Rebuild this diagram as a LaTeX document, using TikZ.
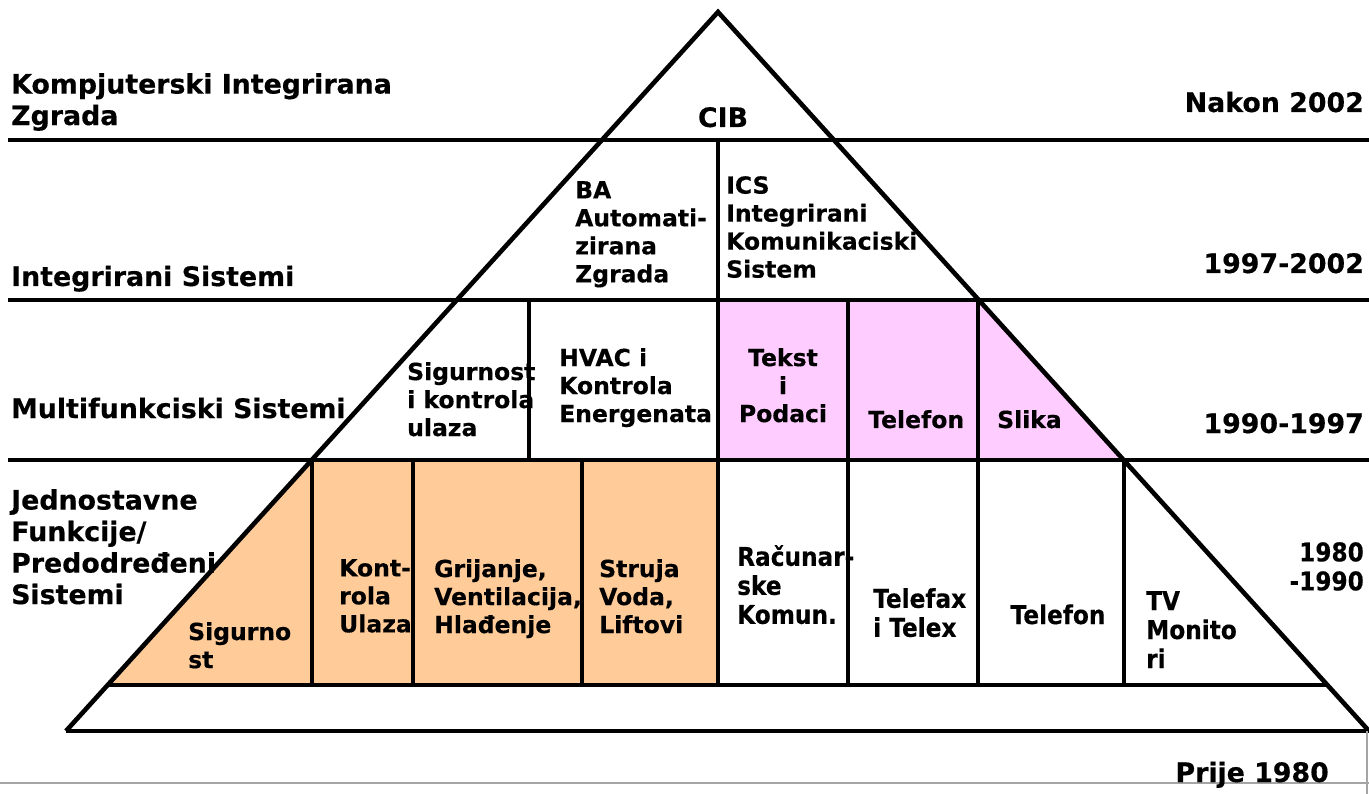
\documentclass[tikz,border=0pt]{standalone}
\usepackage{fontspec}
\setmainfont{DejaVu Sans}[BoldFeatures={FakeBold=0.4}]
\newfontfamily\narrowFamily{DejaVu Sans}[FakeStretch=0.9, BoldFeatures={FakeBold=0.4}]
\usetikzlibrary{calc}
\definecolor{securityOrange}{RGB}{255,204,153}
\definecolor{mediaPink}{RGB}{255,204,255}
\definecolor{frameGray}{RGB}{165,165,165}
\newcommand{\eraFont}{\bfseries\fontsize{26.8}{31.5}\selectfont}
\newcommand{\cellFont}{\bfseries\fontsize{23.5}{28}\selectfont}
\newcommand{\narrowFont}{\narrowFamily\bfseries\fontsize{25.8}{29}\selectfont}
\tikzstyle{pyramid} = [x = 1pt, y = -1pt]
\tikzstyle{edgeLine} = [color=black, line width=4.6pt]
\tikzstyle{rowLine} = [color=black, line width=4.6pt]
\tikzstyle{cellLine} = [color=black, line width=4pt]
\tikzstyle{frameLine} = [color=frameGray, line width=1.5pt]
\tikzstyle{eraText} = [font=\eraFont, inner sep=0pt, align=left]
\tikzstyle{cellText} = [font=\cellFont, inner sep=0pt, align=left, anchor=north west]
\tikzstyle{narrowText} = [font=\narrowFont, inner sep=0pt, align=left, anchor=north west]
\newcommand{\cellDivider}[3]{\draw [cellLine] (#1, #2) -- (#1, #3);}
\begin{document}
\begin{tikzpicture}[pyramid]
  \useasboundingbox (0,0) rectangle (1369,794);
  \coordinate (apex) at (718,12);
  \coordinate (baseL) at (66,731);
  \coordinate (baseR) at (1369,731);
  \foreach \level/\yy in {a/140, b/300, c/460, d/685} {
    \coordinate (left\level) at ($(apex)!{(\yy-12)/719}!(baseL)$);
    \coordinate (right\level) at ($(apex)!{(\yy-12)/719}!(baseR)$);
  }
  % coloured cells
  \fill [mediaPink] (718,300) -- (rightb) -- (rightc) -- (718,460) -- cycle;
  \fill [securityOrange] (leftc) -- (718,460) -- (718,685) -- (leftd) -- cycle;
  % rows and pyramid
  \foreach \yy in {140,300,460} {
    \draw [rowLine] (8,\yy) -- (1369,\yy);
  }
  \draw [rowLine] (leftd) -- (rightd);
  \draw [edgeLine] (baseL) -- (apex) -- (baseR);
  \draw [edgeLine] (baseL) -- (baseR);
  % cell dividers
  \cellDivider{718}{140}{300}
  \foreach \xx in {529,718,848,978} {
    \cellDivider{\xx}{300}{460}
  }
  \foreach \xx in {312,413,582,718,848,978,1124} {
    \cellDivider{\xx}{460}{685}
  }
  % slide frame
  \draw [frameLine] (0,783) -- (1369,783);
  \draw [frameLine] (1367,731) -- (1367,794);

  % era labels
  \node [eraText, anchor=north west] (kompLabel) at (11,73) {Kompjuterski Integrirana\\Zgrada};
  \node [eraText, anchor=base west] (integLabel) at (11,286) {Integrirani Sistemi};
  \node [eraText, anchor=base west] (multiLabel) at (11,418) {Multifunkciski Sistemi};
  \node [eraText, anchor=north west] (simpleLabel) at (11,489) {Jednostavne\\Funkcije/\\Predodređeni\\Sistemi};
  \node [eraText, anchor=base] (cibLabel) at (723,127) {CIB};
  % years
  \node [eraText, anchor=base east] (yearNakon) at (1364,112) {Nakon 2002};
  \node [eraText, anchor=base east] (yearNinety) at (1364,273) {1997-2002};
  \node [eraText, anchor=base east] (yearNinetySeven) at (1364,433) {1990-1997};
  \node [narrowText, align=right, anchor=north east] (yearEighty) at (1364,542) {1980\\-1990};
  \node [eraText, anchor=base east] (yearPrije) at (1329,782) {Prije 1980};

  % integrated row
  \node [cellText] (baCell) at (575,181) {BA\\Automati-\\zirana\\Zgrada};
  \node [cellText] (icsCell) at (726,176) {ICS\\Integrirani\\Komunikaciski\\Sistem};
  % multifunction row
  \node [cellText] (accessCell) at (407,362) {Sigurnost\\i kontrola\\ulaza};
  \node [cellText] (hvacCell) at (559,348) {HVAC i\\Kontrola\\Energenata};
  \node [cellText, align=center, anchor=north] (dataCell) at (783,348) {Tekst\\i\\Podaci};
  \node [cellText, anchor=base west] (phoneCell) at (868,428) {Telefon};
  \node [cellText, anchor=base west] (imageCell) at (997,428) {Slika};
  % single function row
  \node [cellText] (securityCell) at (188,622) {Sigurno\\st};
  \node [cellText] (entryCell) at (339,559) {Kont-\\rola\\Ulaza};
  \node [cellText] (heatCell) at (434,559) {Grijanje,\\Ventilacija,\\Hlađenje};
  \node [cellText] (powerCell) at (599,559) {Struja\\Voda,\\Liftovi};
  \node [narrowText] (computerCell) at (737,545) {Računar-\\ske\\Komun.};
  \node [narrowText] (faxCell) at (873,588) {Telefax\\i Telex};
  \node [narrowText, anchor=base] (telephoneCell) at (1058,624) {Telefon};
  \node [narrowText] (tvCell) at (1146,591) {TV\\Monito\\ri};
\end{tikzpicture}
\end{document}
